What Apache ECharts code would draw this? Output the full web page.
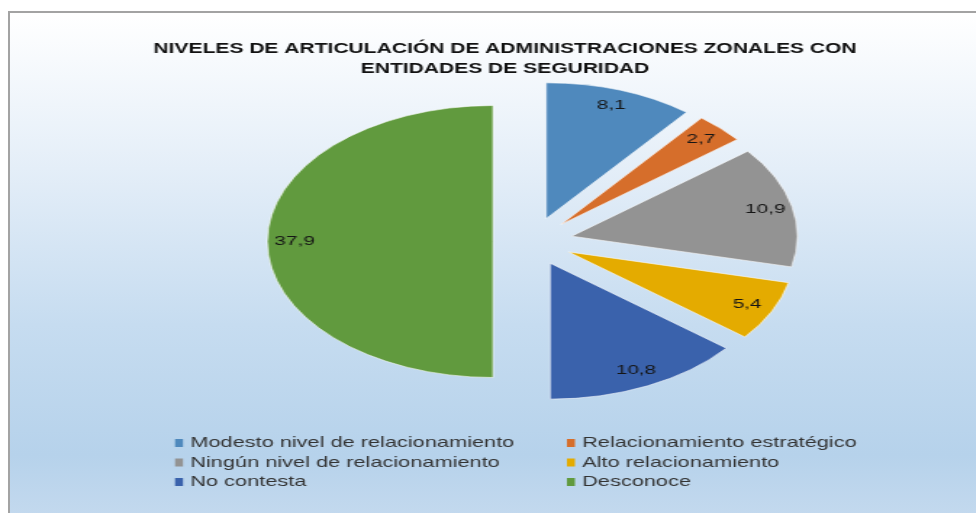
<!DOCTYPE html>
<html>
<head>
<meta charset="utf-8">
<script src="https://cdn.jsdelivr.net/npm/echarts@6/dist/echarts.min.js"></script>
<style>
html,body{margin:0;padding:0;background:#fff;overflow:hidden}
#frame{position:absolute;left:8px;top:11px;width:990px;height:520px;border-left:2px solid #a3a3a3;border-top:2px solid #a3a3a3;
  background:linear-gradient(to bottom,#ffffff 0%,#e4eef8 30%,#c6dcf0 60%,#b6d2eb 85%,#c7dbef 100%)}
#pie{position:absolute;left:0;top:0;width:588px;height:513px;transform:scaleX(1.66);transform-origin:0 0}
#txt{position:absolute;left:0;top:0;width:673px;height:513px;transform:scaleX(1.45);transform-origin:0 0}
</style>
</head>
<body>
<div id="frame"></div>
<div id="pie"></div>
<div id="txt"></div>
<script>
var categorias = ['Modesto nivel de relacionamiento', 'Relacionamiento estratégico', 'Ningún nivel de relacionamiento', 'Alto relacionamiento', 'No contesta', 'Desconoce'];
var valores = [8.1, 2.7, 10.9, 5.4, 10.8, 37.9];
var colores = ['#4f89bd', '#d66e2b', '#939393', '#e4ab00', '#3a62ac', '#619a3e'];
var titulo = 'NIVELES DE ARTICULACIÓN DE ADMINISTRACIONES ZONALES CON\nENTIDADES DE SEGURIDAD';

/* pastel (estirado horizontalmente como el original) */
var pieChart = echarts.init(document.getElementById('pie'));
var pieData = categorias.map(function(c, i){
    return {name: c, value: valores[i], selected: true, itemStyle: {color: colores[i]}};
});
pieChart.setOption({
    animation: false,
    series: [{
        type: 'pie',
        center: [321, 241.5],
        radius: 136,
        startAngle: 90,
        clockwise: true,
        selectedMode: 'multiple',
        selectedOffset: 24,
        label: {show: false},
        labelLine: {show: false},
        itemStyle: {borderColor: 'rgba(255,255,255,0.7)', borderWidth: 0.8},
        emphasis: {scale: false},
        data: pieData
    }, {
        // capa de etiquetas, mas cerca del borde como en Excel
        type: 'pie',
        center: [321, 241.5],
        radius: [97, 136],
        startAngle: 90,
        clockwise: true,
        silent: true,
        selectedMode: 'multiple',
        selectedOffset: 24,
        itemStyle: {color: 'rgba(0,0,0,0)'},
        label: {
            show: true,
            position: 'inside',
            fontFamily: 'Liberation Sans',
            fontSize: 12.5,
            color: '#151515',
            formatter: function(p){ return String(p.value).replace('.', ','); }
        },
        labelLine: {show: false},
        data: pieData.map(function(d){ return {name: d.name, value: d.value, selected: true}; })
    }]
});

/* titulo y leyenda */
var txtChart = echarts.init(document.getElementById('txt'));
var legendText = {fontFamily: 'Liberation Sans', fontSize: 15, color: '#333', lineHeight: 16};
txtChart.setOption({
    animation: false,
    title: {
        text: titulo,
        left: 348.3,
        top: 39,
        padding: 0,
        textAlign: 'center',
        textStyle: {fontFamily: 'Liberation Sans', fontWeight: 'bold', fontSize: 14.5, lineHeight: 20, color: '#111'}
    },
    legend: [{
        orient: 'vertical', left: 120.7, top: 435, padding: 0,
        itemWidth: 5.5, itemHeight: 8, itemGap: 3.5, icon: 'rect',
        textStyle: legendText,
        data: [categorias[0], categorias[2], categorias[4]]
    }, {
        orient: 'vertical', left: 391, top: 435, padding: 0,
        itemWidth: 5.5, itemHeight: 8, itemGap: 3.5, icon: 'rect',
        textStyle: legendText,
        data: [categorias[1], categorias[3], categorias[5]]
    }],
    series: [{
        type: 'pie',
        radius: [0, 0],
        silent: true,
        label: {show: false},
        labelLine: {show: false},
        data: categorias.map(function(c, i){ return {name: c, value: valores[i], itemStyle: {color: colores[i]}}; })
    }]
});
</script>
</body>
</html>
